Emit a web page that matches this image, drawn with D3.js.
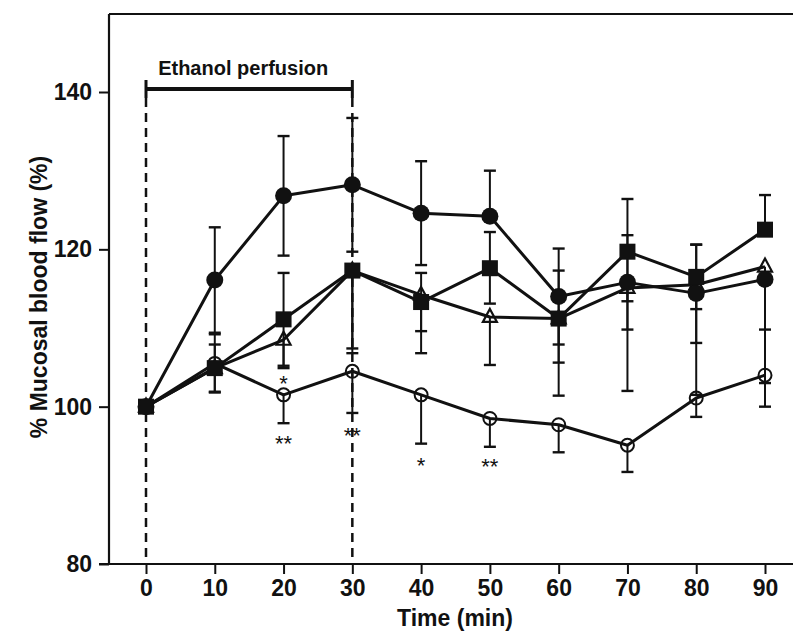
<!DOCTYPE html>
<html>
<head>
<meta charset="utf-8">
<script src="https://cdn.jsdelivr.net/npm/d3@7"></script>
<style>
  html, body { margin: 0; padding: 0; background: #fff; }
  svg { display: block; }
  text { font-family: "Liberation Sans", Arial, Helvetica, sans-serif; font-weight: bold; fill: #111; }
</style>
</head>
<body>
<svg id="chart" width="793" height="631"></svg>
<script>
// ---- data ----
const times = [0, 10, 20, 30, 40, 50, 60, 70, 80, 90];
const yTicks = [80, 100, 120, 140];

// filled circles
const filledCircle     = [100, 116.1, 126.8, 128.2, 124.6, 124.2, 114.0, 115.8, 114.4, 116.2];
const filledCircleUp   = [0, 6.7, 7.6, 8.5, 6.6, 5.8, 6.1, 6.0, 6.2, 0];
const filledCircleDown = [0, 6.7, 7.6, 8.5, 6.6, 0, 6.1, 6.0, 6.3, 6.4];
// filled squares
const filledSquare     = [100, 104.9, 111.1, 117.3, 113.3, 117.6, 111.2, 119.7, 116.5, 122.5];
const filledSquareUp   = [0, 3.0, 5.9, 0, 3.7, 4.6, 6.1, 6.7, 4.1, 4.4];
const filledSquareDown = [0, 3.0, 5.9, 9.9, 3.7, 4.5, 5.6, 6.3, 4.1, 0];
// open triangles
const openTriangle     = [100, 104.9, 108.5, 117.3, 114.2, 111.4, 111.2, 115.1, 115.5, 117.8];
const openTriangleUp   = [0, 0, 0, 0, 0, 0, 0, 0, 0, 0];
const openTriangleDown = [0, 0, 3.6, 10.5, 7.4, 6.1, 9.8, 13.1, 14.0, 14.8];
// open circles
const openCircle       = [100, 105.5, 101.5, 104.5, 101.5, 98.5, 97.7, 95.1, 101.1, 104.0];
const openCircleUp     = [0, 3.7, 0, 0, 0, 0, 0, 0, 0, 0];
const openCircleDown   = [0, 3.7, 3.6, 5.3, 6.2, 3.6, 3.5, 3.4, 2.4, 4.0];

// significance marks
const sigTimes  = [20, 20, 30, 40, 50];
const sigValues = [103.6, 96.0, 97.0, 93.2, 93.1];
const sigLabels = ["*", "**", "**", "*", "**"];

const perfusionStart = 0, perfusionEnd = 30;
const perfusionLabel = "Ethanol perfusion";

// ---- chart ----
const svg = d3.select("#chart");
const axisX = 109, topY = 14, bottomY = 564;
const x = d3.scaleLinear().domain([0, 90]).range([146, 765]);
const y = d3.scaleLinear().domain([80, 140]).range([bottomY, 92]);

// frame
svg.append("line").attr("x1", axisX).attr("x2", 793).attr("y1", topY).attr("y2", topY)
  .attr("stroke", "#111").attr("stroke-width", 2);
svg.append("line").attr("x1", axisX).attr("x2", axisX).attr("y1", topY).attr("y2", bottomY)
  .attr("stroke", "#111").attr("stroke-width", 2.2);
svg.append("line").attr("x1", 99).attr("x2", 793).attr("y1", bottomY).attr("y2", bottomY)
  .attr("stroke", "#111").attr("stroke-width", 2.2);

// y axis
const gy = svg.append("g").attr("transform", `translate(${axisX},0)`)
  .call(d3.axisLeft(y).tickValues(yTicks).tickSize(10).tickPadding(7).tickFormat(d3.format("d")));
gy.select(".domain").remove();
gy.selectAll(".tick line").attr("stroke", "#111").attr("stroke-width", 2);
gy.selectAll(".tick text").style("font-size", "23px").style("font-family", null).attr("fill", "#111");

// x axis
const gx = svg.append("g").attr("transform", `translate(0,${bottomY})`)
  .call(d3.axisBottom(x).tickValues(times).tickSize(10).tickPadding(6).tickFormat(d3.format("d")));
gx.select(".domain").remove();
gx.selectAll(".tick line").attr("stroke", "#111").attr("stroke-width", 2);
gx.selectAll(".tick text").style("font-size", "23px").style("font-family", null).attr("fill", "#111");

// axis titles
svg.append("text").attr("x", 455).attr("y", 626).attr("text-anchor", "middle")
  .style("font-size", "23px").text("Time (min)");
svg.append("text").attr("transform", "translate(47,297) rotate(-90)").attr("text-anchor", "middle")
  .style("font-size", "23px").text("% Mucosal blood flow (%)");

// perfusion bar
const barY = 89;
svg.append("line").attr("x1", x(perfusionStart)).attr("x2", x(perfusionEnd)).attr("y1", barY).attr("y2", barY)
  .attr("stroke", "#111").attr("stroke-width", 4);
[perfusionStart, perfusionEnd].forEach(t => {
  svg.append("line").attr("x1", x(t)).attr("x2", x(t)).attr("y1", barY - 9).attr("y2", barY + 9)
    .attr("stroke", "#111").attr("stroke-width", 3);
  svg.append("line").attr("x1", x(t)).attr("x2", x(t)).attr("y1", barY + 9).attr("y2", bottomY)
    .attr("stroke", "#111").attr("stroke-width", 2.5).attr("stroke-dasharray", "9,6");
});
svg.append("text").attr("x", (x(perfusionStart) + x(perfusionEnd)) / 2 - 6).attr("y", 75)
  .attr("text-anchor", "middle").style("font-size", "20px").text(perfusionLabel);

// series
const series = [
  { vals: openCircle, up: openCircleUp, down: openCircleDown, shape: "ocircle" },
  { vals: openTriangle, up: openTriangleUp, down: openTriangleDown, shape: "otriangle" },
  { vals: filledSquare, up: filledSquareUp, down: filledSquareDown, shape: "square" },
  { vals: filledCircle, up: filledCircleUp, down: filledCircleDown, shape: "circle" }
];

const capW = 6;
const errG = svg.append("g");
series.forEach(s => {
  times.forEach((t, i) => {
    const v = s.vals[i], cx = x(t);
    [[s.up[i], 1], [s.down[i], -1]].forEach(([e, dir]) => {
      if (!e) return;
      const ye = y(v + dir * e);
      errG.append("line").attr("x1", cx).attr("x2", cx).attr("y1", y(v)).attr("y2", ye)
        .attr("stroke", "#111").attr("stroke-width", 2);
      errG.append("line").attr("x1", cx - capW).attr("x2", cx + capW).attr("y1", ye).attr("y2", ye)
        .attr("stroke", "#111").attr("stroke-width", 2.4);
    });
  });
});

const line = d3.line().x((d, i) => x(times[i])).y(d => y(d));
series.forEach(s => {
  svg.append("path").datum(s.vals).attr("d", line)
    .attr("fill", "none").attr("stroke", "#111").attr("stroke-width", 3).attr("stroke-linejoin", "round");
});

series.forEach(s => {
  const g = svg.append("g");
  times.forEach((t, i) => {
    const cx = x(t), cy = y(s.vals[i]);
    if (s.shape === "circle") {
      g.append("circle").attr("cx", cx).attr("cy", cy).attr("r", 8.5).attr("fill", "#111");
    } else if (s.shape === "square") {
      g.append("rect").attr("x", cx - 8).attr("y", cy - 8).attr("width", 16).attr("height", 16).attr("fill", "#111");
    } else if (s.shape === "ocircle") {
      g.append("circle").attr("cx", cx).attr("cy", cy).attr("r", 6.5)
        .attr("fill", "none").attr("stroke", "#111").attr("stroke-width", 2);
    } else {
      const h = 13, w = 14;
      g.append("path").attr("d", `M${cx},${cy - h * 0.62} L${cx + w / 2},${cy + h * 0.38} L${cx - w / 2},${cy + h * 0.38} Z`)
        .attr("fill", "none").attr("stroke", "#111").attr("stroke-width", 2.2).attr("stroke-linejoin", "miter");
    }
  });
});

// significance marks
sigTimes.forEach((t, i) => {
  svg.append("text").attr("x", x(t)).attr("y", y(sigValues[i]) + 13)
    .attr("text-anchor", "middle").style("font-size", "22px").style("font-weight", "normal")
    .text(sigLabels[i]);
});
</script>
</body>
</html>
